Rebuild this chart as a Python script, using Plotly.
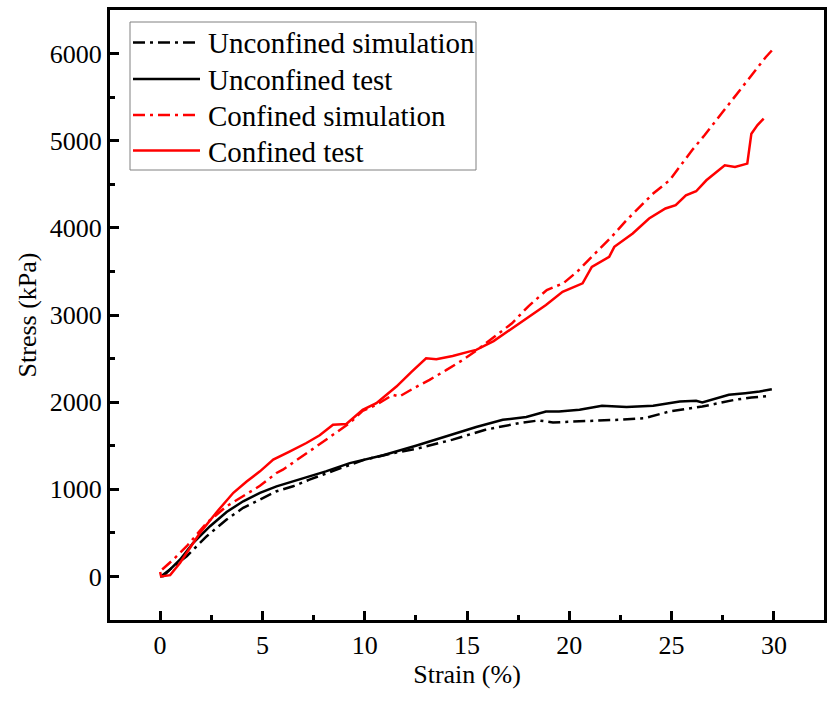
import plotly.graph_objects as go

# ---- data ----
unconf_test_strain = [0, 0.16, 0.98, 1.62, 2.44, 3.25, 4.06, 4.88, 5.69, 6.5, 7.3, 8.1, 9.27, 10.9, 12.5,
                      14.0, 15.45, 16.75, 17.9, 18.86, 19.5, 20.5, 21.6, 22.8, 24.1, 25.4, 26.2, 26.5, 27.0,
                      27.8, 28.6, 29.3, 29.9]
unconf_test_stress = [0, 4, 195, 386, 576, 740, 862, 958, 1034, 1091, 1149, 1206, 1300, 1390, 1500,
                      1610, 1714, 1798, 1829, 1893, 1893, 1912, 1958, 1943, 1958, 2008, 2015, 1996, 2027,
                      2084, 2103, 2122, 2149]

unconf_sim_strain = [0.1, 1.3, 2.28, 3.25, 4.06, 4.88, 5.69, 6.5, 7.3, 8.5, 10.0, 11.5, 12.68, 14.3, 15.9,
                     17.56, 18.5, 19.2, 20.8, 22.4, 23.7, 24.9, 26.5, 28.1, 28.9, 29.8]
unconf_sim_stress = [10, 232, 462, 653, 787, 882, 977, 1034, 1111, 1215, 1340, 1420, 1473, 1570, 1683,
                     1760, 1790, 1767, 1779, 1798, 1817, 1893, 1950, 2027, 2053, 2073]

conf_sim_strain = [0.1, 0.65, 1.3, 2.28, 3.25, 4.23, 4.88, 5.69, 6.0, 7.64, 9.27, 9.9, 10.57, 11.38, 11.7,
                   12.4, 13.17, 14.0, 14.7, 15.45, 16.3, 17.2, 18.0, 18.9, 19.7, 20.4, 21.1, 22.0, 22.8,
                   23.5, 24.1, 24.9, 26.0, 26.6, 27.3, 28.3, 29.1, 29.6, 29.9]
conf_sim_stress = [80, 195, 347, 615, 805, 950, 1040, 1187, 1225, 1492, 1760, 1900, 1970, 2084, 2065,
                   2160, 2256, 2370, 2470, 2591, 2740, 2905, 3100, 3287, 3363, 3500, 3668, 3880, 4088,
                   4250, 4394, 4546, 4890, 5060, 5271, 5577, 5806, 5958, 6035]

conf_test_strain = [0, 0.05, 0.49, 0.98, 1.95, 2.77, 3.58, 4.23, 4.88, 5.53, 6.3, 7.15, 7.8, 8.45, 9.1,
                    9.9, 10.57, 11.55, 12.3, 13.0, 13.5, 14.3, 15.1, 15.45, 16.3, 17.56, 18.86, 19.67,
                    20.65, 21.1, 21.95, 22.2, 23.1, 23.9, 24.7, 25.2, 25.7, 26.2, 26.7, 27.6, 28.1, 28.7,
                    28.8, 28.9, 29.2, 29.5]
conf_test_stress = [50, 0, 15, 157, 500, 740, 960, 1090, 1206, 1340, 1430, 1531, 1620, 1741, 1749,
                    1912, 1989, 2179, 2350, 2504, 2493, 2530, 2580, 2600, 2700, 2905, 3115, 3267,
                    3363, 3553, 3668, 3782, 3935, 4107, 4222, 4260, 4374, 4420, 4546, 4718, 4698, 4737,
                    4890, 5081, 5180, 5253]

series_names = ["Unconfined simulation", "Unconfined test", "Confined simulation", "Confined test"]
x_ticks = [0, 5, 10, 15, 20, 25, 30]
y_ticks = [0, 1000, 2000, 3000, 4000, 5000, 6000]

FONT = "Liberation Serif, Times New Roman, serif"
DASHDOT = "12px,5px,3px,5px"
RED = "#ff0000"

series = [
    (unconf_sim_strain, unconf_sim_stress, "black", DASHDOT),
    (unconf_test_strain, unconf_test_stress, "black", "solid"),
    (conf_sim_strain, conf_sim_stress, RED, DASHDOT),
    (conf_test_strain, conf_test_stress, RED, "solid"),
]

fig = go.Figure()
for name, (xs, ys, col, dash) in zip(series_names, series):
    fig.add_trace(go.Scatter(x=xs, y=ys, mode="lines", name=name, showlegend=False,
                             line=dict(color=col, width=2.5, dash=dash)))

tick_font = dict(family=FONT, size=26, color="black")
title_font = dict(family=FONT, size=26, color="black")

fig.update_xaxes(range=[-2.45, 32.45], tickvals=x_ticks, ticktext=[str(v) for v in x_ticks],
                 showline=True, linecolor="black", linewidth=3, mirror=True,
                 ticks="inside", ticklen=9, tickwidth=3, tickcolor="black",
                 showgrid=False, zeroline=False, automargin=False,
                 tickfont=tick_font,
                 minor=dict(ticks="inside", ticklen=5, tickwidth=3, tickcolor="black", dtick=2.5, tick0=0),
                 title=dict(text="Strain (%)", font=title_font, standoff=4))
fig.update_yaxes(range=[-500, 6500], tickvals=y_ticks, ticktext=[str(v) for v in y_ticks],
                 showline=True, linecolor="black", linewidth=3, mirror=True,
                 ticks="inside", ticklen=9, tickwidth=3, tickcolor="black",
                 showgrid=False, zeroline=False, automargin=False,
                 tickfont=tick_font,
                 minor=dict(ticks="inside", ticklen=5, tickwidth=3, tickcolor="black", dtick=500, tick0=0),
                 title=dict(text="Stress (kPa)", font=title_font, standoff=6))

# ---- legend drawn in paper coordinates (box, sample lines, labels) ----
PW, PH = 714.0, 610.0  # plot area size in px
def px_x(p):
    return (p - 110) / PW
def px_y(p):
    return (620 - p) / PH

shapes = [dict(type="rect", xref="paper", yref="paper",
               x0=px_x(130), x1=px_x(476), y0=px_y(170), y1=px_y(22),
               line=dict(color="#808080", width=1), fillcolor="white", layer="above")]
annotations = []
row_y = [42.5, 79, 115, 150.5]
for name, (xs, ys, col, dash), ry in zip(series_names, series, row_y):
    shapes.append(dict(type="line", xref="paper", yref="paper",
                       x0=px_x(133), x1=px_x(200), y0=px_y(ry), y1=px_y(ry),
                       line=dict(color=col, width=2.5, dash=dash), layer="above"))
    annotations.append(dict(text=name, xref="paper", yref="paper",
                            x=px_x(206), y=px_y(ry + 1), xanchor="left", yanchor="middle",
                            showarrow=False, font=dict(family=FONT, size=29, color="black")))

fig.update_layout(
    width=830, height=702,
    margin=dict(l=110, r=6, t=10, b=82),
    paper_bgcolor="white", plot_bgcolor="white",
    font=dict(family=FONT, color="black"),
    shapes=shapes, annotations=annotations,
    showlegend=False,
)

fig.write_html("out.html", config={"displayModeBar": False},
               post_script="document.body.style.margin='0';document.body.style.overflow='hidden';")
